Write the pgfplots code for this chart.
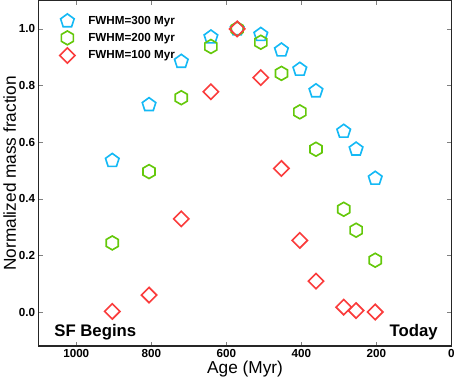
\documentclass[border=0pt]{standalone}
\usepackage{fontspec}
\setmainfont{Liberation Sans}
\usepackage{pgfplots}
\pgfplotsset{compat=1.18}
\usetikzlibrary{plotmarks}

\definecolor{cblue}{RGB}{20,185,245}
\definecolor{cgreen}{RGB}{100,200,10}
\definecolor{cred}{RGB}{250,60,60}

% matplotlib-like hexagon (pointy top) and square diamond
\pgfdeclareplotmark{hexa}{%
  \pgfpathmoveto{\pgfpointpolar{90}{\pgfplotmarksize}}%
  \pgfpathlineto{\pgfpointpolar{150}{\pgfplotmarksize}}%
  \pgfpathlineto{\pgfpointpolar{210}{\pgfplotmarksize}}%
  \pgfpathlineto{\pgfpointpolar{270}{\pgfplotmarksize}}%
  \pgfpathlineto{\pgfpointpolar{330}{\pgfplotmarksize}}%
  \pgfpathlineto{\pgfpointpolar{30}{\pgfplotmarksize}}%
  \pgfpathclose\pgfusepathqstroke}
\pgfdeclareplotmark{sqdiamond}{%
  \pgfpathmoveto{\pgfqpoint{0pt}{\pgfplotmarksize}}%
  \pgfpathlineto{\pgfqpoint{\pgfplotmarksize}{0pt}}%
  \pgfpathlineto{\pgfqpoint{0pt}{-\pgfplotmarksize}}%
  \pgfpathlineto{\pgfqpoint{-\pgfplotmarksize}{0pt}}%
  \pgfpathclose\pgfusepathqstroke}

\begin{document}
\begin{tikzpicture}
\begin{axis}[
    scale only axis,
    width=405bp, height=339bp,
    x dir=reverse,
    xmin=0, xmax=1100, ymin=-0.12, ymax=1.1,
    xtick={0,200,400,600,800,1000},
    ytick={0,0.2,0.4,0.6,0.8,1.0},
    xticklabel style={/pgf/number format/1000 sep={}},
    yticklabel style={/pgf/number format/fixed, /pgf/number format/precision=1, /pgf/number format/fixed zerofill},
    /pgf/number format/assume math mode=true,
    tick label style={font=\bfseries\fontsize{11.5}{12}\selectfont},
    label style={font=\fontsize{17}{18}\selectfont},
    xlabel={Age (Myr)},
    ylabel={Normalized mass fraction},
    xlabel style={yshift=4bp},
    ylabel style={yshift=-4bp},
    tick align=inside, major tick length=4bp,
    axis line style={line width=1.2bp, black!85},
    legend cell align=left,
    legend style={draw=none, fill=none, at={(0.043,0.968)}, anchor=north west,
      font=\bfseries\fontsize{11.5}{12}\selectfont, row sep=3bp,
      /tikz/every odd column/.append style={column sep=11bp}},
]
\addplot[only marks, mark=pentagon, mark size=7bp, draw=cblue, line width=1.6bp]
  coordinates {
    (904,0.535) (806,0.732) (720,0.885) (641,0.971) (571,1.0) (508,0.980)
    (453,0.925) (404,0.857) (361,0.781) (287,0.638) (254,0.575) (203,0.472)
  };
\addlegendentry{FWHM=300 Myr}
\addplot[only marks, mark=hexa, mark size=6.8bp, draw=cgreen, line width=1.6bp]
  coordinates {
    (904,0.244) (806,0.496) (720,0.757) (641,0.938) (571,1.0) (508,0.953)
    (453,0.843) (404,0.707) (361,0.575) (287,0.363) (254,0.289) (203,0.183)
  };
\addlegendentry{FWHM=200 Myr}
\addplot[only marks, mark=sqdiamond, mark size=7.5bp, draw=cred, line width=1.6bp]
  coordinates {
    (904,0.002) (806,0.060) (720,0.329) (641,0.778) (571,1.0) (508,0.828)
    (453,0.507) (404,0.253) (361,0.109) (287,0.017) (254,0.005) (203,0.0)
  };
\addlegendentry{FWHM=100 Myr}
\node[anchor=base west, font=\bfseries\fontsize{16.5}{17}\selectfont] at (axis cs:1068,-0.085) {SF Begins};
\node[anchor=base east, font=\bfseries\fontsize{16.5}{17}\selectfont] at (axis cs:27,-0.085) {Today};
\end{axis}
\end{tikzpicture}
\end{document}
